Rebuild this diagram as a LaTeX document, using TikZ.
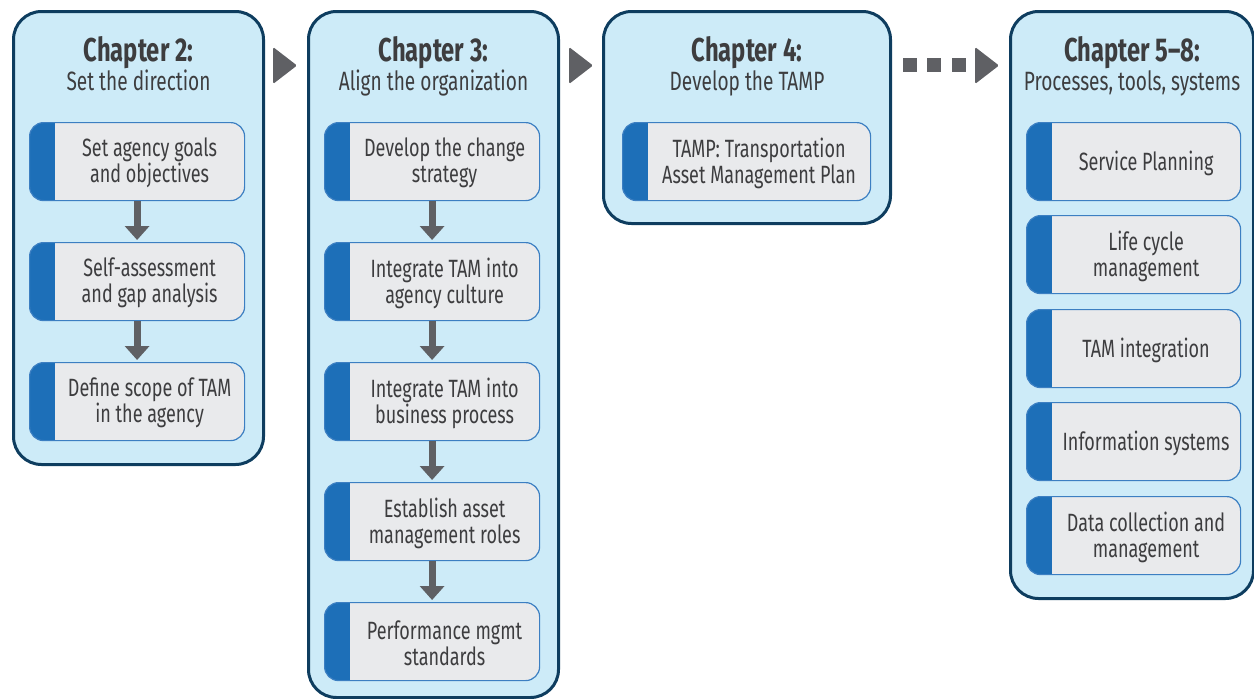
\documentclass[tikz,border=0pt]{standalone}
\usepackage{fontspec}
\setmainfont{Fira Sans}[FakeStretch=0.72]
\usetikzlibrary{arrows.meta,positioning,calc}

\definecolor{chapfill}{HTML}{CDEBF8}
\definecolor{chapline}{HTML}{0E3D5F}
\definecolor{stepfill}{HTML}{E9EAEC}
\definecolor{stepline}{HTML}{3C7FC2}
\definecolor{stripblue}{HTML}{1D6FB8}
\definecolor{arrowgray}{HTML}{5F6064}
\definecolor{textgray}{HTML}{3D3D3F}

\tikzset{chapter/.style={draw=chapline,line width=3pt,fill=chapfill,
  rounded corners=28pt,anchor=north west,inner sep=0pt},
 chaptitle/.style={anchor=north,align=center,text=textgray,inner sep=0pt,
  font=\fontsize{26.5}{29}\selectfont},
 stepbox/.style={draw=stepline,line width=1.2pt,fill=stepfill,
  rounded corners=14pt,minimum height=78pt,anchor=north west,inner sep=0pt,
  path picture={\fill[stripblue,sharp corners] (path picture bounding box.south west)
   rectangle ([xshift=25pt]path picture bounding box.north west);}},
 steptext/.style={align=center,text=textgray,inner sep=0pt,
  font=\fontsize{25}{26}\selectfont},
 downarrow/.style={draw=arrowgray,line width=7pt,
  -{Triangle[width=24pt,length=14pt]},shorten >=2pt},
 }

% step box: [width] name, x, y, text
\newcommand{\stepnode}[5][215pt]{%
  \node[stepbox,minimum width=#1] (#2) at (#3,#4) {};
  \node[steptext] (#2-text) at ([xshift=12.5pt,yshift=-1.5pt]#2.center) {#5};}

\begin{document}
\begin{tikzpicture}[x=1pt,y=-1pt]
        \useasboundingbox (0,0) rectangle (1254,699);
        % chapters
        \node[chapter,minimum width=250pt,minimum height=453pt] (ch2) at (12,10) {};
        \node[chapter,minimum width=250pt,minimum height=686pt] (ch3) at (307,10) {};
        \node[chapter,minimum width=287pt,minimum height=212pt] (ch4) at (602,10) {};
        \node[chapter,minimum width=243pt,minimum height=587pt] (ch5) at (1009,10) {};
        \node[chaptitle] (ch2-title) at ([yshift=-26pt]ch2.north)
            {{\bfseries\fontsize{33}{29}\selectfont Chapter 2:}\\Set the direction};
        \node[chaptitle] (ch3-title) at ([yshift=-26pt]ch3.north)
            {{\bfseries\fontsize{33}{29}\selectfont Chapter 3:}\\Align the organization};
        \node[chaptitle] (ch4-title) at ([yshift=-26pt]ch4.north)
            {{\bfseries\fontsize{33}{29}\selectfont Chapter 4:}\\Develop the TAMP};
        \node[chaptitle] (ch5-title) at ([yshift=-26pt]ch5.north)
            {{\bfseries\fontsize{33}{29}\selectfont Chapter 5--8:}\\Processes, tools, systems};
        % chapter 2
        \stepnode{s21}{29}{122}{Set agency goals\\and objectives}
        \stepnode{s22}{29}{242}{Self-assessment\\and gap analysis}
        \stepnode{s23}{29}{362}{Define scope of TAM\\in the agency}
        % chapter 3
        \stepnode{s31}{324}{122}{Develop the change\\strategy}
        \stepnode{s32}{324}{242}{Integrate TAM into\\agency culture}
        \stepnode{s33}{324}{362}{Integrate TAM into\\business process}
        \stepnode{s34}{324}{482}{Establish asset\\management roles}
        \stepnode{s35}{324}{602}{Performance mgmt\\standards}
        % chapter 4
        \stepnode[248pt]{s41}{622}{122}{TAMP: Transportation\\Asset Management Plan}
        % chapters 5-8
        \stepnode[214pt]{s51}{1026}{122}{Service Planning}
        \stepnode[214pt]{s52}{1026}{215}{Life cycle\\management}
        \stepnode[214pt]{s53}{1026}{309}{TAM integration}
        \stepnode[214pt]{s54}{1026}{402}{Information systems}
        \stepnode[214pt]{s55}{1026}{496}{Data collection and\\management}
        % arrows
        \foreach \a/\b in {s21/s22,s22/s23,s31/s32,s32/s33,s33/s34,s34/s35}
            \draw[downarrow] (\a.south) -- (\b.north);
        \foreach \x in {273,569,975}
            \fill[arrowgray,rounded corners=1.5pt] (\x,47) -- ++(24,18.5) -- ++(-24,18.5) -- cycle;
        \foreach \x in {903,927,952}
            \fill[arrowgray] (\x,58) rectangle ++(14,14);
    \end{tikzpicture}
\end{document}
